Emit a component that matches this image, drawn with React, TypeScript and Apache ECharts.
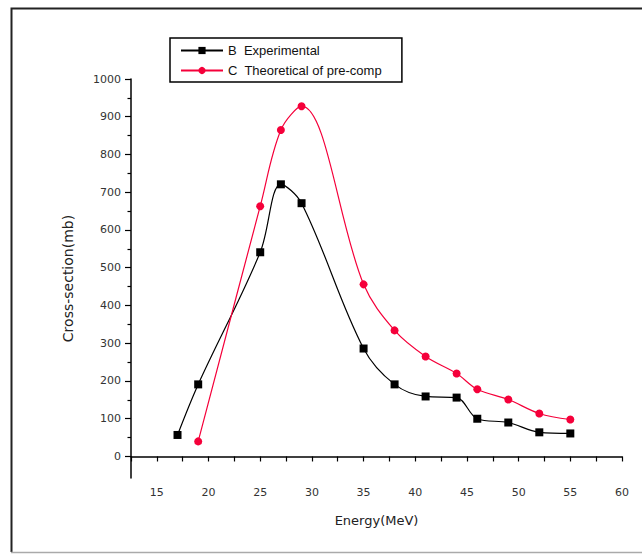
import React, { useEffect, useRef } from "react";
import * as echarts from "echarts";

// Energy (MeV) of each measured / calculated point
const energyExp = [17, 19, 25, 27, 29, 35, 38, 41, 44, 46, 49, 52, 55];
const crossExp = [57, 191, 541, 721, 671, 286, 191, 159, 156, 100, 90, 64, 61];

const energyTheo = [19, 25, 27, 29, 35, 38, 41, 44, 46, 49, 52, 55];
const crossTheo = [40, 663, 865, 928, 456, 334, 265, 220, 178, 151, 114, 98];

const seriesNames = ["B  Experimental", "C  Theoretical of pre-comp"];

const yMajorTicks = [0, 100, 200, 300, 400, 500, 600, 700, 800, 900, 1000];
const yMinorTicks = [50, 150, 250, 350, 450, 550, 650, 750, 850, 950];

const FONT = "Liberation Sans, Arial, sans-serif";
const WIDE_FONT = "DejaVu Sans, Verdana, sans-serif";

export default function App() {
  const ref = useRef<HTMLDivElement>(null);

  useEffect(() => {
    if (!ref.current) return;
    const chart = echarts.init(ref.current, null, { renderer: "svg" });

    const yBase = {
      type: "value" as const,
      min: -57,
      max: 1000,
      position: "left" as const,
      splitLine: { show: false },
    };

    chart.setOption({
      animation: false,
      backgroundColor: "#fff",
      grid: { left: 131, top: 79, right: 20, bottom: 78, containLabel: false },
      legend: {
        orient: "vertical",
        left: 170,
        top: 38,
        itemWidth: 42,
        itemHeight: 9,
        itemGap: 7,
        padding: [6, 20, 5, 10],
        borderColor: "#000",
        borderWidth: 1.5,
        textStyle: { fontFamily: FONT, fontSize: 13, color: "#111" },
        data: seriesNames,
      },
      xAxis: {
        type: "value",
        min: 12.5,
        max: 60,
        interval: 2.5,
        name: "Energy(MeV)",
        nameLocation: "middle",
        nameGap: 36,
        nameTextStyle: { fontFamily: WIDE_FONT, fontSize: 13, color: "#222" },
        axisLine: { lineStyle: { color: "#000", width: 1.5 } },
        axisTick: { length: 5, lineStyle: { color: "#000", width: 1.2 } },
        axisLabel: {
          fontFamily: WIDE_FONT,
          fontSize: 11,
          color: "#333",
          margin: 9,
          formatter: (v: number) => (v % 5 === 0 ? String(v) : ""),
        },
        splitLine: { show: false },
      },
      yAxis: [
        {
          ...yBase,
          name: "Cross-section(mb)",
          nameLocation: "middle",
          nameGap: 56,
          nameTextStyle: { fontFamily: WIDE_FONT, fontSize: 14, color: "#222" },
          axisLine: { show: true, lineStyle: { color: "#000", width: 1.5 } },
          axisTick: {
            show: true,
            length: 6,
            customValues: yMajorTicks,
            lineStyle: { color: "#000", width: 1.2 },
          },
          axisLabel: {
            fontFamily: WIDE_FONT,
            fontSize: 11,
            color: "#333",
            margin: 10,
            customValues: yMajorTicks,
            formatter: (v: number) => String(v),
          },
        },
        {
          ...yBase,
          axisLine: { show: false },
          axisTick: {
            show: true,
            length: 3.5,
            customValues: yMinorTicks,
            lineStyle: { color: "#000", width: 1.2 },
          },
          axisLabel: { show: false },
        },
      ],
      series: [
        {
          name: seriesNames[0],
          type: "line",
          yAxisIndex: 0,
          data: energyExp.map((e, i) => [e, crossExp[i]]),
          smooth: 0.35,
          symbol: "rect",
          symbolSize: 8,
          itemStyle: { color: "#000" },
          lineStyle: { color: "#000", width: 1.2 },
        },
        {
          name: seriesNames[1],
          type: "line",
          yAxisIndex: 0,
          data: energyTheo.map((e, i) => [e, crossTheo[i]]),
          smooth: 0.35,
          symbol: "circle",
          symbolSize: 8,
          itemStyle: { color: "#f5003a" },
          lineStyle: { color: "#f5003a", width: 1.2 },
        },
      ],
      graphic: [
        {
          type: "polyline",
          silent: true,
          shape: { points: [[660, 8.5], [11.5, 8.5], [11.5, 552]] },
          style: { stroke: "#222", lineWidth: 2, fill: "none" },
        },
        {
          type: "line",
          silent: true,
          shape: { x1: 11, y1: 552.5, x2: 642, y2: 552.5 },
          style: { stroke: "#aaa", lineWidth: 1.5 },
        },
      ],
    });

    return () => chart.dispose();
  }, []);

  return (
    <div
      ref={ref}
      style={{ position: "fixed", left: 0, top: 0, width: 642, height: 556 }}
    />
  );
}
